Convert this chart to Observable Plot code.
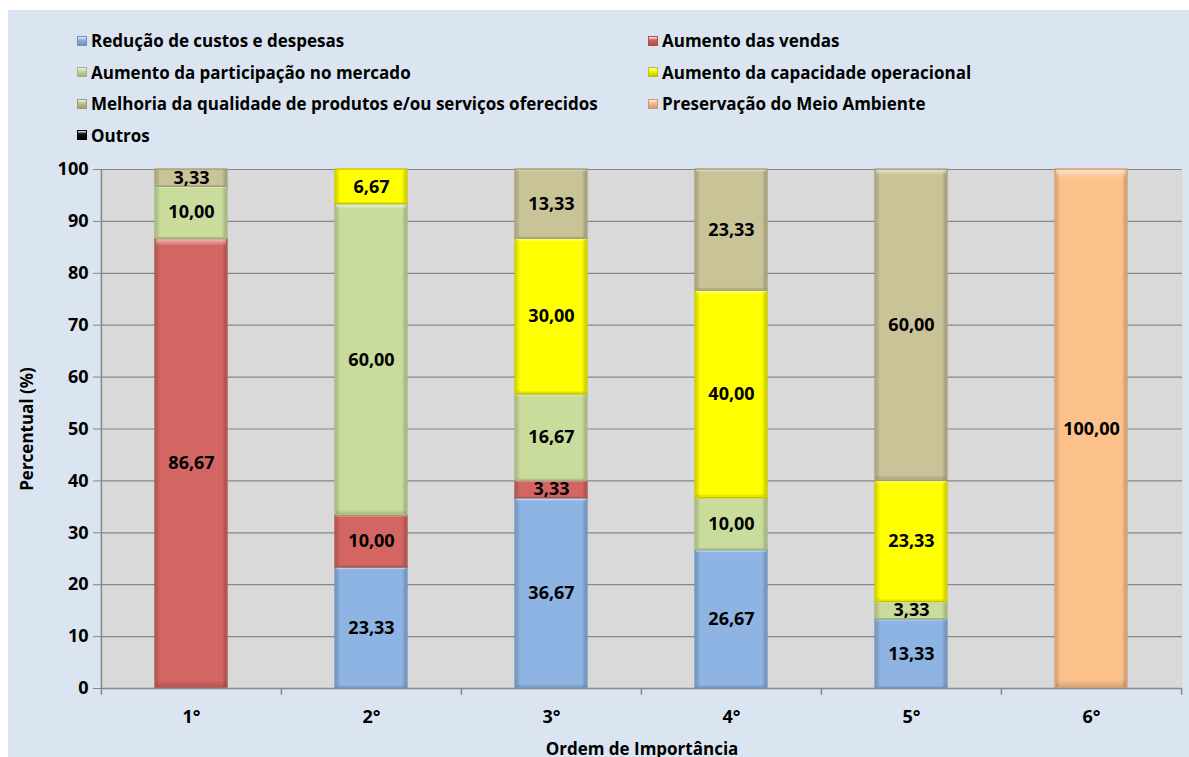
<!DOCTYPE html>
<html><head><meta charset="utf-8">
<script src="https://cdn.jsdelivr.net/npm/d3@7"></script>
<script src="https://cdn.jsdelivr.net/npm/@observablehq/plot@0.6"></script>
<style>
body{margin:0;background:#fff;}
#chart{position:absolute;left:8px;top:10px;width:1181px;height:747px;background:#dbe5f1;overflow:hidden;font-family:"Open Sans",Lato,sans-serif;}
#legend{height:140px;box-sizing:border-box;padding-top:15px;padding-left:69px;display:grid;grid-template-columns:571px auto;grid-auto-rows:31.5px;font-weight:bold;font-size:17px;color:#000;}
.item{display:flex;align-items:center;white-space:nowrap;}
.sw{display:inline-block;width:10px;height:10px;margin-right:4px;box-sizing:border-box;}
svg{display:block;}
</style></head>
<body><div id="chart"><div id="legend"></div></div>
<script>
const cats = ["1°","2°","3°","4°","5°","6°"];
const series = ["Redução de custos e despesas","Aumento das vendas","Aumento da participação no mercado","Aumento da capacidade operacional","Melhoria da qualidade de produtos e/ou serviços oferecidos","Preservação do Meio Ambiente","Outros"];
const reducao     = [0, 23.33, 36.67, 26.67, 13.33, 0];
const vendas      = [86.67, 10.00, 3.33, 0, 0, 0];
const participacao= [10.00, 60.00, 16.67, 10.00, 3.33, 0];
const capacidade  = [0, 6.67, 30.00, 40.00, 23.33, 0];
const melhoria    = [3.33, 0, 13.33, 23.33, 60.00, 0];
const preservacao = [0, 0, 0, 0, 0, 100.00];
const outros      = [0, 0, 0, 0, 0, 0];
const seriesValues = [reducao, vendas, participacao, capacidade, melhoria, preservacao, outros];
const fills = ["#8db4e3","#d36662","#c9dc9b","#ffff00","#c9c398","#fdc18c","#111111"];
const edges = ["#6f8fb8","#a94f4c","#a0b27a","#c4c400","#a09b78","#cb9a70","#000000"];

const data = series.flatMap((s,i)=>cats.map((c,j)=>({cat:c, series:s, value:seriesValues[i][j], fill:fills[i], edge:edges[i]}))).filter(d=>d.value>0);
const fmt = v => v.toFixed(2).replace(".", ",");

const leg = document.getElementById("legend");
series.forEach((s,i)=>{
  const it = document.createElement("div"); it.className="item";
  it.innerHTML = `<span class="sw" style="background:linear-gradient(#fff8 0,${fills[i]} 35%,${edges[i]} 100%);border:1px solid ${edges[i]}"></span>${s}`;
  leg.appendChild(it);
});

const W=1181, H=607, mL=93, mR=7, mT=19, mB=69;
const step = (W-mL-mR)/cats.length;
const FONT = "'Open Sans', Lato, sans-serif";

const chart = Plot.plot({
  width:W, height:H, marginTop:mT, marginBottom:mB, marginLeft:mL, marginRight:mR,
  style:{background:"transparent", fontFamily:FONT, fontWeight:"bold", fontSize:"18px", color:"#000", overflow:"visible"},
  x:{domain:cats, paddingInner:0.6, paddingOuter:0.3, label:null},
  y:{domain:[0,100], label:null},
  marks:[
    Plot.frame({fill:"#d9d9d9", stroke:null}),
    Plot.gridY({ticks:d3.range(0,101,10), stroke:"#878787", strokeOpacity:1, strokeWidth:1.2}),
    Plot.barY(data, {x:"cat", y:"value", z:"series", fill:"fill", stroke:"edge", strokeWidth:1.3}),
    Plot.barY(data, {x:"cat", y:"value", z:"series", fill:"url(#bevelH)", insetTop:1, insetBottom:1, insetLeft:1, insetRight:1}),
    Plot.barY(data, {x:"cat", y:"value", z:"series", fill:"url(#bevelV)", insetTop:1, insetBottom:1, insetLeft:1, insetRight:1}),
    Plot.text(data, Plot.stackY({x:"cat", y:"value", z:"series", text:d=>fmt(d.value), fontSize:18, fontWeight:"bold", fill:"#000"})),
    Plot.ruleY([0], {stroke:"#878787", strokeWidth:1.5}),
    Plot.ruleX([cats[0]], {dx:-step/2, y1:0, y2:100, stroke:"#878787", strokeWidth:1.5}),
    Plot.ruleX(cats, {x:d=>d, dx:-step/2, y1:0, y2:-1.3, stroke:"#878787", strokeWidth:1.5}),
    Plot.ruleX([cats[cats.length-1]], {dx:step/2, y1:0, y2:-1.3, stroke:"#878787", strokeWidth:1.5}),
    Plot.axisY({ticks:d3.range(0,101,10), tickSize:8, tickPadding:5, stroke:"#878787", fontSize:18, fontWeight:"bold", label:null}),
    Plot.axisX({tickSize:0, tickPadding:22, fontSize:18, fontWeight:"bold", label:null}),
    Plot.text(["Percentual (%)"], {frameAnchor:"left", dx:-74, rotate:-90, textAnchor:"middle", fontSize:17, fontWeight:"bold"}),
    Plot.text(["Ordem de Importância"], {frameAnchor:"bottom", dy:61, lineAnchor:"middle", fontSize:17, fontWeight:"bold"})
  ]
});
const defs = `<defs>
<linearGradient id="bevelH" x1="0" x2="1" y1="0" y2="0">
<stop offset="0" stop-color="#000" stop-opacity="0.16"/><stop offset="0.06" stop-color="#000" stop-opacity="0"/>
<stop offset="0.94" stop-color="#000" stop-opacity="0"/><stop offset="1" stop-color="#000" stop-opacity="0.2"/></linearGradient>
<linearGradient id="bevelV" x1="0" x2="0" y1="0" y2="1">
<stop offset="0" stop-color="#fff" stop-opacity="0.55"/><stop offset="0.015" stop-color="#fff" stop-opacity="0.0"/>
<stop offset="0.985" stop-color="#000" stop-opacity="0.0"/><stop offset="1" stop-color="#000" stop-opacity="0.15"/></linearGradient>
</defs>`;
chart.insertAdjacentHTML("afterbegin", defs);
document.getElementById("chart").appendChild(chart);
</script>
</body></html>
